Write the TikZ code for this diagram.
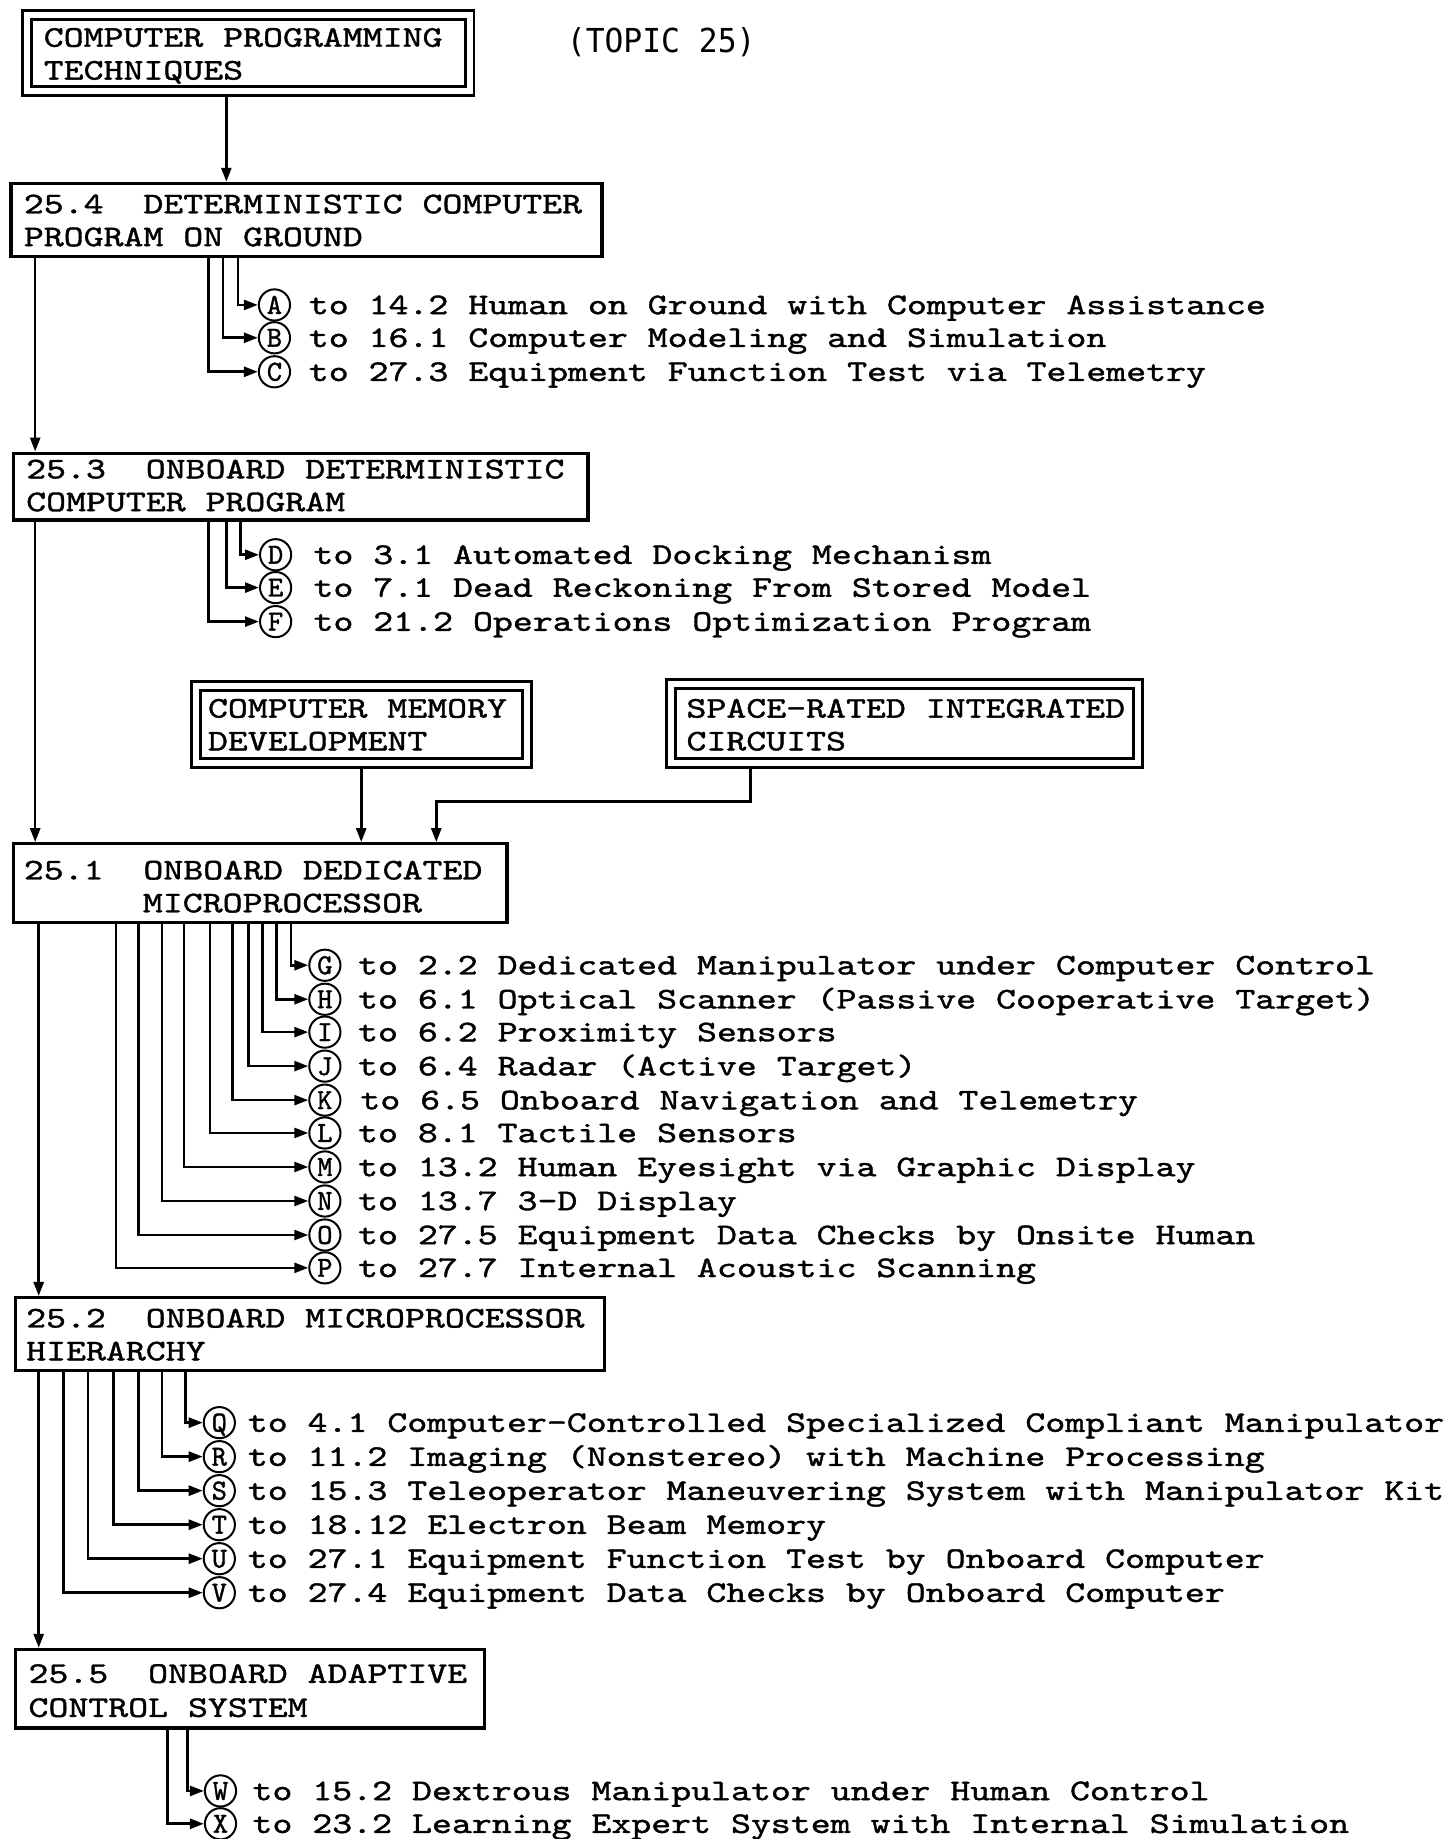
\documentclass[tikz,border=0pt]{standalone}
\usepackage{fontspec}
\newfontfamily\tw[FakeStretch=1.266,FakeBold=1.3]{lmmono10-regular.otf}
\newfontfamily\twc[FakeBold=1.3]{lmmono10-regular.otf}
\newfontfamily\topicfont[FakeStretch=0.95]{DejaVu Sans Mono}
\usetikzlibrary{arrows.meta}
\def\ux{0.58645pt}
\newcommand\itemrow[5]{%
  \node[lbl] (c#1) at (#2,#3) {#1};
  \node[itm] (t#1) at (#4,#3) {#5};}
\begin{document}
\begin{tikzpicture}[x=0.58645pt,y=-0.58645pt,
  every node/.style={font=\tw\fontsize{15}{15.2}\selectfont},
  box/.style={draw, line width=1.6pt, anchor=north west, inner sep=0pt},
  dbox/.style={draw, double, double distance=3pt, line width=1.4pt, anchor=north west, inner sep=0pt, outer sep=2.9pt},
  conn/.style={line width=1.3pt, -{Triangle[length=7pt,width=5pt]}},
  lbl/.style={circle, draw, line width=1pt, minimum size=15.6pt, inner sep=0pt, font=\twc\fontsize{14.5}{14.5}\selectfont, text height=8.9pt, text depth=0pt},
  itm/.style={anchor=west, inner sep=0pt, text height=9.2pt, text depth=0pt},
]
\path[fill=white,use as bounding box] (0,0) rectangle (1232,1568);

% title
\node[anchor=west, inner sep=0pt, font=\topicfont\fontsize{16.5}{16.6}\selectfont] (topic) at (483,36) {(TOPIC 25)};

% boxes
\node[dbox, minimum width=377.5*\ux, minimum height=64.5*\ux] (b0) at (18,8) {};
\node[itm] (b0a) at (37,32) {COMPUTER PROGRAMMING};
\node[itm] (b0b) at (37,60) {TECHNIQUES};

\node[box, minimum width=504*\ux, minimum height=62*\ux] (b254) at (8,155) {};
\node[itm] (b254a) at (20,174) {25.4~~DETERMINISTIC COMPUTER};
\node[itm] (b254b) at (20,202) {PROGRAM ON GROUND};

\node[box, minimum width=490*\ux, minimum height=57*\ux] (b253) at (10,385) {};
\node[itm] (b253a) at (22,400) {25.3~~ONBOARD DETERMINISTIC};
\node[itm] (b253b) at (22,428) {COMPUTER PROGRAM};

\node[dbox, minimum width=282.5*\ux, minimum height=65.5*\ux] (bmem) at (162,580) {};
\node[itm] (bmema) at (177,604) {COMPUTER MEMORY};
\node[itm] (bmemb) at (177,632) {DEVELOPMENT};

\node[dbox, minimum width=398.5*\ux, minimum height=67.5*\ux] (bspace) at (567,578) {};
\node[itm] (bspacea) at (585,604) {SPACE-RATED INTEGRATED};
\node[itm] (bspaceb) at (585,632) {CIRCUITS};

\node[box, minimum width=421*\ux, minimum height=67*\ux] (b251) at (10,718) {};
\node[itm] (b251a) at (20,742) {25.1~~ONBOARD DEDICATED};
\node[itm] (b251b) at (121.5,770) {MICROPROCESSOR};

\node[box, minimum width=502*\ux, minimum height=62*\ux] (b252) at (12,1105) {};
\node[itm] (b252a) at (22,1124) {25.2~~ONBOARD MICROPROCESSOR};
\node[itm] (b252b) at (22,1152) {HIERARCHY};

\node[box, minimum width=400*\ux, minimum height=67*\ux] (b255) at (12,1405) {};
\node[itm] (b255a) at (24,1427) {25.5~~ONBOARD ADAPTIVE};
\node[itm] (b255b) at (24,1456) {CONTROL SYSTEM};

% main connectors
\draw[conn] ([xshift=175*\ux]b0.south west) -- ([xshift=185*\ux]b254.north west);
\draw[conn] ([xshift=22*\ux]b254.south west) -- ([xshift=20*\ux]b253.north west);
\draw[conn] ([xshift=20*\ux]b253.south west) -- ([xshift=20*\ux]b251.north west);
\draw[conn] ([xshift=146*\ux]bmem.south west) -- ([xshift=298*\ux]b251.north west);
\draw[conn] ([xshift=73*\ux]bspace.south west) -- ++(0,28) -| ([xshift=362*\ux]b251.north west);
\draw[conn] ([xshift=23*\ux]b251.south west) -- ([xshift=21*\ux]b252.north west);
\draw[conn] ([xshift=21*\ux]b252.south west) -- ([xshift=21*\ux]b255.north west);

% 25.4 items
\itemrow{A}{234}{260}{263}{to 14.2 Human on Ground with Computer Assistance}
\itemrow{B}{234}{288}{263}{to 16.1 Computer Modeling and Simulation}
\itemrow{C}{234}{317}{263}{to 27.3 Equipment Function Test via Telemetry}
\draw[conn] ([xshift=195*\ux]b254.south west) |- (cA);
\draw[conn] ([xshift=182*\ux]b254.south west) |- (cB);
\draw[conn] ([xshift=170*\ux]b254.south west) |- (cC);

% 25.3 items
\itemrow{D}{235}{473}{267}{to 3.1 Automated Docking Mechanism}
\itemrow{E}{235}{501}{267}{to 7.1 Dead Reckoning From Stored Model}
\itemrow{F}{235}{530}{267}{to 21.2 Operations Optimization Program}
\draw[conn] ([xshift=195*\ux]b253.south west) |- (cD);
\draw[conn] ([xshift=183*\ux]b253.south west) |- (cE);
\draw[conn] ([xshift=168*\ux]b253.south west) |- (cF);

% 25.1 items
\itemrow{G}{277}{823}{305}{to 2.2 Dedicated Manipulator under Computer Control}
\itemrow{H}{277}{852}{305}{to 6.1 Optical Scanner (Passive Cooperative Target)}
\itemrow{I}{277}{880}{305}{to 6.2 Proximity Sensors}
\itemrow{J}{277}{909}{305}{to 6.4 Radar (Active Target)}
\itemrow{K}{277}{938}{307}{to 6.5 Onboard Navigation and Telemetry}
\itemrow{L}{277}{966}{305}{to 8.1 Tactile Sensors}
\itemrow{M}{277}{995}{305}{to 13.2 Human Eyesight via Graphic Display}
\itemrow{N}{277}{1024}{305}{to 13.7 3-D Display}
\itemrow{O}{277}{1053}{305}{to 27.5 Equipment Data Checks by Onsite Human}
\itemrow{P}{277}{1081}{305}{to 27.7 Internal Acoustic Scanning}
\draw[conn] ([xshift=238*\ux]b251.south west) |- (cG);
\draw[conn] ([xshift=226*\ux]b251.south west) |- (cH);
\draw[conn] ([xshift=214*\ux]b251.south west) |- (cI);
\draw[conn] ([xshift=202*\ux]b251.south west) |- (cJ);
\draw[conn] ([xshift=188*\ux]b251.south west) |- (cK);
\draw[conn] ([xshift=169*\ux]b251.south west) |- (cL);
\draw[conn] ([xshift=147*\ux]b251.south west) |- (cM);
\draw[conn] ([xshift=128*\ux]b251.south west) |- (cN);
\draw[conn] ([xshift=108*\ux]b251.south west) |- (cO);
\draw[conn] ([xshift=89*\ux]b251.south west) |- (cP);

% 25.2 items
\itemrow{Q}{187}{1213}{211}{to 4.1 Computer-Controlled Specialized Compliant Manipulator}
\itemrow{R}{187}{1242}{211}{to 11.2 Imaging (Nonstereo) with Machine Processing}
\itemrow{S}{187}{1271}{211}{to 15.3 Teleoperator Maneuvering System with Manipulator Kit}
\itemrow{T}{187}{1300}{211}{to 18.12 Electron Beam Memory}
\itemrow{U}{187}{1329}{211}{to 27.1 Equipment Function Test by Onboard Computer}
\itemrow{V}{187}{1358}{211}{to 27.4 Equipment Data Checks by Onboard Computer}
\draw[conn] ([xshift=146*\ux]b252.south west) |- (cQ);
\draw[conn] ([xshift=126*\ux]b252.south west) |- (cR);
\draw[conn] ([xshift=106*\ux]b252.south west) |- (cS);
\draw[conn] ([xshift=85*\ux]b252.south west) |- (cT);
\draw[conn] ([xshift=63*\ux]b252.south west) |- (cU);
\draw[conn] ([xshift=42*\ux]b252.south west) |- (cV);

% 25.5 items
\itemrow{W}{188}{1527}{215}{to 15.2 Dextrous Manipulator under Human Control}
\itemrow{X}{188}{1555}{215}{to 23.2 Learning Expert System with Internal Simulation}
\draw[conn] ([xshift=148*\ux]b255.south west) |- (cW);
\draw[conn] ([xshift=131*\ux]b255.south west) |- (cX);
\end{tikzpicture}
\end{document}
